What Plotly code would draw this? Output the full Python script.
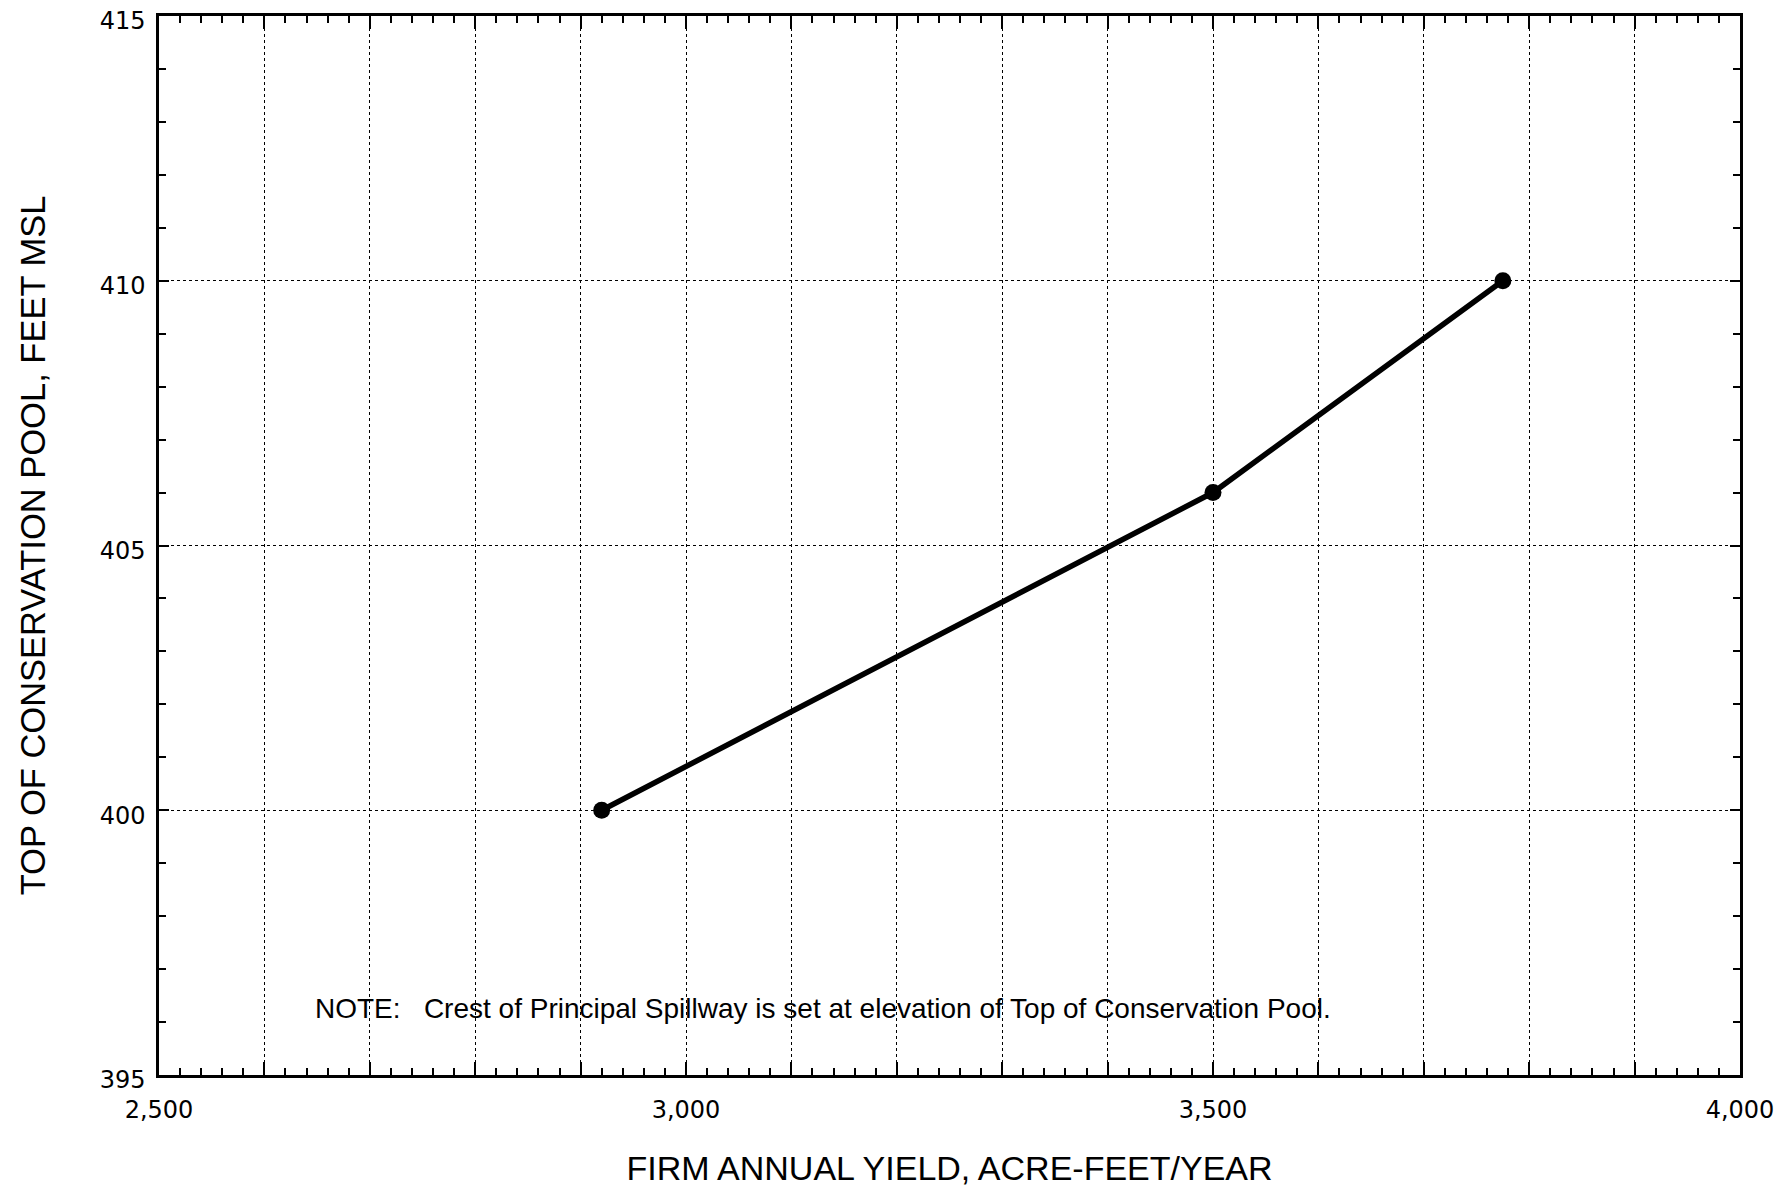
import plotly.graph_objects as go

# Data
yield_afy = [2920, 3500, 3775]
pool_elev = [400, 406, 410]

x_tickvals = [2500, 2600, 2700, 2800, 2900, 3000, 3100, 3200, 3300, 3400,
              3500, 3600, 3700, 3800, 3900, 4000]
x_ticktext = ["2,500", "", "", "", "", "3,000", "", "", "", "",
              "3,500", "", "", "", "", "4,000"]
y_tickvals = [395, 400, 405, 410, 415]
y_ticktext = ["395", "400", "405", "410", "415"]

note_text = "NOTE:   Crest of Principal Spillway is set at elevation of Top of Conservation Pool."
x_title = "FIRM ANNUAL YIELD, ACRE-FEET/YEAR"
y_title = "TOP OF CONSERVATION POOL, FEET MSL"

FONT = "Liberation Sans, Arial, sans-serif"
TICKFONT = "DejaVu Sans, sans-serif"

fig = go.Figure()
fig.add_trace(go.Scatter(
    x=yield_afy, y=pool_elev, mode="lines+markers",
    line=dict(color="black", width=5.5),
    marker=dict(color="black", size=17),
    showlegend=False,
))

fig.add_annotation(
    x=3130, y=396.25, xref="x", yref="y", text=note_text, showarrow=False,
    font=dict(family=FONT, size=28, color="black"), xanchor="center", yanchor="middle",
)

fig.update_xaxes(
    range=[2500, 4000], tickvals=x_tickvals, ticktext=x_ticktext,
    ticks="inside", ticklen=13, tickwidth=1.5, tickcolor="black",
    showline=True, linecolor="black", linewidth=2.5, mirror="allticks",
    showgrid=True, gridcolor="black", gridwidth=1.3, griddash="dot",
    zeroline=False, ticklabelstandoff=11, automargin=False,
    ticklabeloverflow="allow",
    tickfont=dict(family=TICKFONT, size=24, color="black"),
    minor=dict(dtick=20, tick0=2500, ticks="inside", ticklen=7, tickwidth=1.5,
               tickcolor="black", showgrid=False),
    title=dict(text=x_title, font=dict(family=FONT, size=34, color="black"), standoff=34),
)
fig.update_yaxes(
    range=[395, 415], tickvals=y_tickvals, ticktext=y_ticktext,
    ticks="inside", ticklen=10, tickwidth=1.5, tickcolor="black",
    showline=True, linecolor="black", linewidth=2.5, mirror="allticks",
    showgrid=True, gridcolor="black", gridwidth=1.3, griddash="dot",
    zeroline=False, ticklabelstandoff=6, ticklabelshift=5, automargin=False,
    ticklabeloverflow="allow",
    tickfont=dict(family=TICKFONT, size=24, color="black"),
    minor=dict(dtick=1, tick0=395, ticks="inside", ticklen=7, tickwidth=1.5,
               tickcolor="black", showgrid=False),
    title=dict(text=y_title, font=dict(family=FONT, size=34.5, color="black"), standoff=44),
)

fig.update_layout(
    width=1775, height=1183,
    margin=dict(l=151, r=43, t=8, b=116),
    plot_bgcolor="white", paper_bgcolor="white",
)

fig.write_html("out.html")
